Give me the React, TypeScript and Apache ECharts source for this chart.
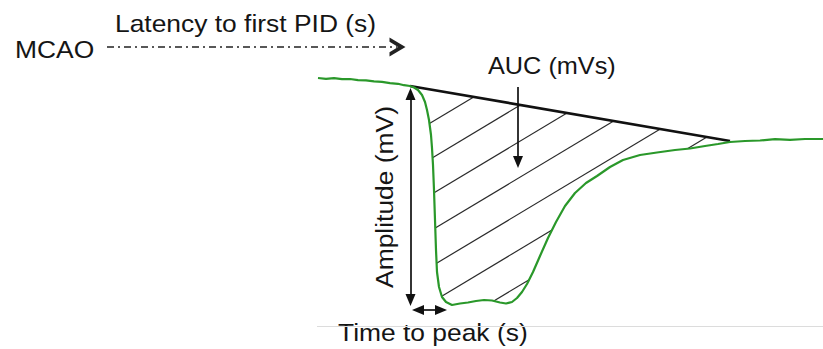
import React, { useEffect, useRef } from "react";
import * as echarts from "echarts";

// Green recording trace: time (s) and potential (mV)
const traceT = [
  42.2, 43.8, 45.4, 47.0, 48.6, 50.2, 51.8, 53.4, 55.0, 56.6, 58.2, 59.4, 60.6,
  61.4, 62.2, 63.0, 63.6, 64.0, 64.4, 64.8, 65.0, 65.2, 65.4, 65.6, 65.8, 66.0,
  66.4, 67.0, 67.8, 69.0, 70.6, 72.2, 73.8, 75.4, 77.0, 78.6, 79.8, 81.0, 82.0,
  83.0, 84.0, 85.2, 86.6, 88.2, 89.8, 91.6, 93.6, 95.8, 98.0, 100.6, 103.2,
  106.6, 110.0, 113.6, 116.6, 119.6, 122.2, 124.6, 127.6, 130.6, 133.6, 136.6,
  139.6, 143.2,
];
const traceMV = [
  0.0, -0.08, -0.02, -0.12, -0.1, -0.22, -0.24, -0.34, -0.38, -0.52, -0.58,
  -0.72, -0.8, -0.95, -1.2, -1.7, -2.4, -3.2, -4.2, -5.7, -7.0, -8.7, -11.2,
  -14.2, -17.2, -19.4, -20.9, -21.9, -22.4, -22.7, -22.55, -22.45, -22.3,
  -22.2, -22.25, -22.45, -22.55, -22.4, -22.0, -21.4, -20.6, -19.4, -17.8,
  -16.0, -14.4, -12.8, -11.5, -10.5, -9.8, -8.9, -8.2, -7.7, -7.45, -7.2,
  -7.05, -6.8, -6.6, -6.4, -6.3, -6.25, -6.12, -6.18, -6.1, -6.1,
];

// AUC baseline (from PID onset to recovery)
const aucT = [60.6, 124.6];
const aucMV = [-0.8, -6.3];

// Hatch lines: mV = intercept + slope * t
const hatchSlope = 0.3;
const hatchIntercepts = [-23.9, -27.5, -31.1, -34.7, -38.3, -41.9, -45.5];

// Annotation arrows (t, mV endpoints)
const latencyT = [0, 58.1];
const latencyMV = [3.1, 3.1];
const amplitudeT = [60.7, 60.7];
const amplitudeMV = [-1.6, -22.2];
const peakT = [62.2, 66.8];
const peakMV = [-23.2, -23.2];
const aucArrowT = [82.2, 82.2];
const aucArrowMV = [-0.9, -8.4];
const floorT = [42.0, 143.2];
const floorMV = [-24.8, -24.8];

const FONT = "'Liberation Sans', Arial, Helvetica, sans-serif";
const TXT = "#151515";

function hatchSegments() {
  const poly: number[][] = [];
  for (let i = 0; i < traceT.length; i++) {
    if (traceT[i] >= aucT[0] && traceT[i] <= aucT[1]) poly.push([traceT[i], traceMV[i]]);
  }
  poly.push([aucT[1], aucMV[1]]);
  poly.push([aucT[0], aucMV[0]]);
  const segs: number[][][] = [];
  hatchIntercepts.forEach((a) => {
    const f = (p: number[]) => p[1] - (a + hatchSlope * p[0]);
    const ts: number[] = [];
    for (let i = 0; i < poly.length; i++) {
      const p = poly[i];
      const q = poly[(i + 1) % poly.length];
      const fp = f(p);
      const fq = f(q);
      if ((fp > 0 && fq <= 0) || (fp <= 0 && fq > 0)) {
        ts.push(p[0] + ((q[0] - p[0]) * fp) / (fp - fq));
      }
    }
    ts.sort((x, y) => x - y);
    for (let k = 0; k + 1 < ts.length; k += 2) {
      segs.push([
        [ts[k], a + hatchSlope * ts[k]],
        [ts[k + 1], a + hatchSlope * ts[k + 1]],
      ]);
    }
  });
  return segs;
}

function arrowSeries(
  name: string,
  t: number[],
  mv: number[],
  symbols: any[],
  symbolSize: any,
  lineStyle: any
) {
  return {
    name,
    type: "line",
    data: [],
    silent: true,
    markLine: {
      silent: true,
      animation: false,
      symbol: symbols,
      symbolSize,
      label: { show: false },
      emphasis: { disabled: true },
      lineStyle,
      itemStyle: { color: lineStyle.color },
      data: [[{ coord: [t[0], mv[0]] }, { coord: [t[1], mv[1]] }]],
    },
  };
}

export default function App() {
  const ref = useRef<HTMLDivElement>(null);
  useEffect(() => {
    document.body.style.margin = "0";
    const chart = echarts.init(ref.current!, null, { renderer: "svg" });
    const chevron = "path://M0,14 L10,0 L20,14 L15.6,14 L10,6.4 L4.4,14 Z";
    const text = (s: string, x: number, y: number, size: number, extra: any = {}) => ({
      type: "text",
      x,
      y,
      scaleX: 1.1,
      style: {
        text: s,
        fontSize: size,
        fontFamily: FONT,
        fill: TXT,
        align: "left",
        verticalAlign: "middle",
      },
      ...extra,
    });
    chart.setOption({
      animation: false,
      grid: { left: 0, right: 0, top: 0, bottom: 0 },
      xAxis: { type: "value", min: -21.4, max: 143.2, show: false },
      yAxis: { type: "value", min: -27.1, max: 7.8, show: false },
      series: [
        {
          name: "floor",
          type: "lines",
          coordinateSystem: "cartesian2d",
          silent: true,
          lineStyle: { color: "#dcdcdc", width: 1, opacity: 1 },
          data: [{ coords: [[floorT[0], floorMV[0]], [floorT[1], floorMV[1]]] }],
        },
        {
          name: "hatch",
          type: "lines",
          coordinateSystem: "cartesian2d",
          silent: true,
          lineStyle: { color: "#2a2a2a", width: 1.2, opacity: 1 },
          data: hatchSegments().map((c) => ({ coords: c })),
        },
        {
          name: "auc baseline",
          type: "lines",
          coordinateSystem: "cartesian2d",
          silent: true,
          z: 3,
          lineStyle: { color: "#111", width: 2.6, opacity: 1 },
          data: [{ coords: [[aucT[0], aucMV[0]], [aucT[1], aucMV[1]]] }],
        },
        {
          name: "trace",
          type: "line",
          z: 4,
          showSymbol: false,
          silent: true,
          lineStyle: { color: "#2a982a", width: 2.2 },
          data: traceT.map((t, i) => [t, traceMV[i]]),
        },
        arrowSeries("latency", latencyT, latencyMV, ["none", chevron], [19, 16], {
          color: "#222",
          width: 1.7,
          type: [7, 4, 2, 4],
        }),
        arrowSeries("amplitude", amplitudeT, amplitudeMV, ["triangle", "triangle"], [10, 12], {
          color: "#111",
          width: 1.7,
          type: "solid",
        }),
        arrowSeries("peak", peakT, peakMV, ["triangle", "triangle"], [10, 12], {
          color: "#111",
          width: 1.7,
          type: "solid",
        }),
        arrowSeries("auc", aucArrowT, aucArrowMV, ["none", "triangle"], [10, 12], {
          color: "#111",
          width: 1.7,
          type: "solid",
        }),
      ],
      graphic: [
        text("Latency to first PID (s)", 115, 23.5, 24),
        text("MCAO", 15, 49, 24),
        text("AUC (mVs)", 488, 66, 23),
        text("Time to peak (s)", 338, 332.5, 24),
        {
          type: "text",
          x: 384,
          y: 197,
          rotation: Math.PI / 2,
          scaleX: 1.1,
          style: {
            text: "Amplitude (mV)",
            fontSize: 24,
            fontFamily: FONT,
            fill: TXT,
            align: "center",
            verticalAlign: "middle",
          },
        },
      ],
    });
    return () => chart.dispose();
  }, []);
  return <div ref={ref} style={{ width: 823, height: 349 }} />;
}
